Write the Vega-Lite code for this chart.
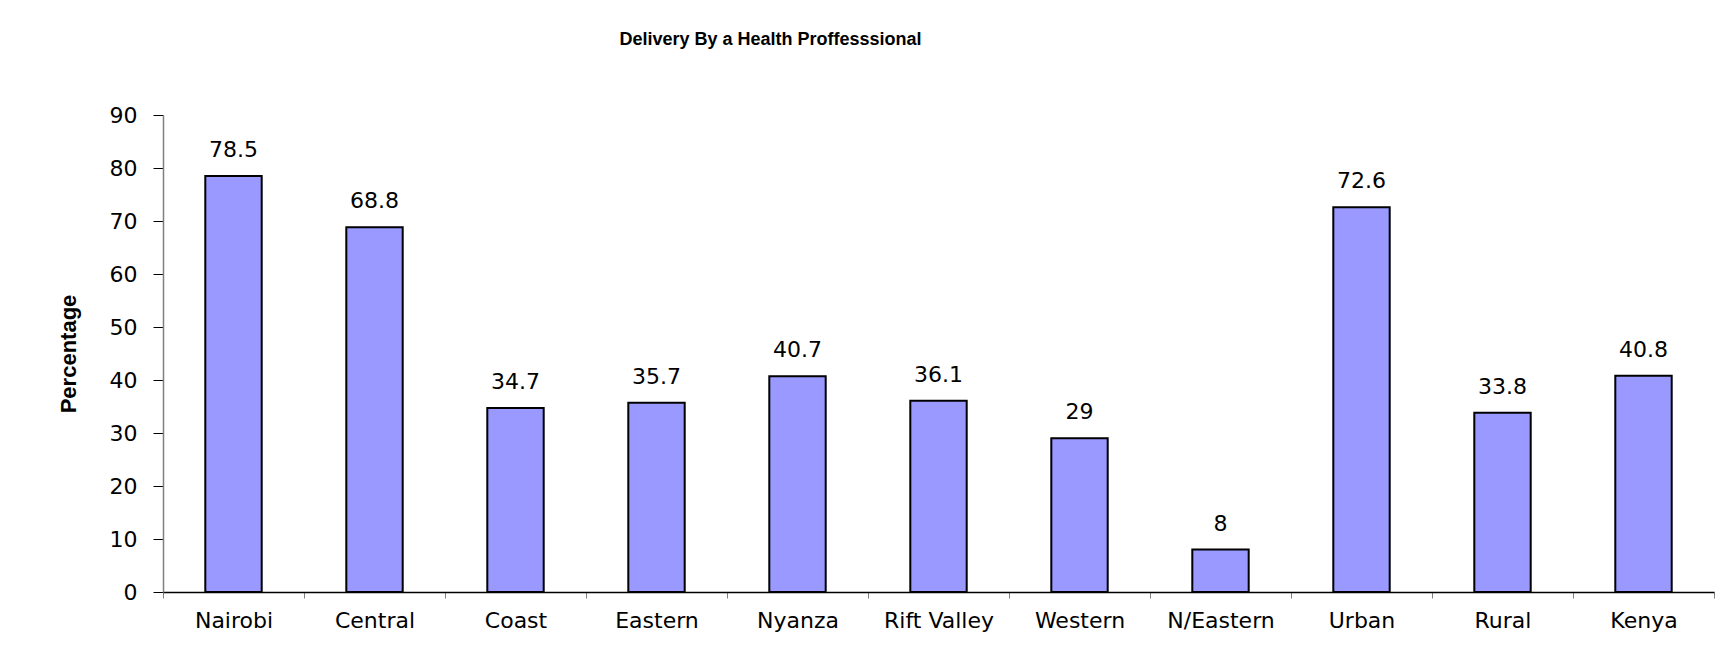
{
  "$schema": "https://vega.github.io/schema/vega-lite/v6.json",
  "autosize": {"type": "none"},
  "width": 1551,
  "height": 477,
  "padding": {"left": 163, "top": 115, "right": 11, "bottom": 64},
  "background": "white",
  "config": {"view": {"stroke": null}},
  "title": {
    "text": "Delivery By a Health Proffesssional",
    "font": "Liberation Sans Narrow, Liberation Sans",
    "fontSize": 18,
    "fontWeight": "bold",
    "color": "black",
    "anchor": "middle",
    "frame": "group",
    "dx": -168,
    "baseline": "alphabetic",
    "offset": 41
  },
  "data": {
    "values": [
      {"region": "Nairobi", "value": 78.5},
      {"region": "Central", "value": 68.8},
      {"region": "Coast", "value": 34.7},
      {"region": "Eastern", "value": 35.7},
      {"region": "Nyanza", "value": 40.7},
      {"region": "Rift Valley", "value": 36.1},
      {"region": "Western", "value": 29},
      {"region": "N/Eastern", "value": 8},
      {"region": "Urban", "value": 72.6},
      {"region": "Rural", "value": 33.8},
      {"region": "Kenya", "value": 40.8}
    ]
  },
  "encoding": {
    "x": {
      "field": "region",
      "type": "nominal",
      "sort": null,
      "scale": {"paddingInner": 0, "paddingOuter": 0},
      "axis": {
        "title": null,
        "labelAngle": 0,
        "labelFont": "DejaVu Sans",
        "labelFontSize": 22,
        "labelColor": "black",
        "labelPadding": 12,
        "tickBand": "extent",
        "tickSize": 6,
        "tickColor": "#808080",
        "domainColor": "black",
        "domainWidth": 1.5,
        "grid": false
      }
    },
    "y": {
      "field": "value",
      "type": "quantitative",
      "scale": {"domain": [0, 90], "nice": false},
      "axis": {
        "title": "Percentage",
        "titleFont": "Liberation Sans Narrow, Liberation Sans",
        "titleFontSize": 22,
        "titleFontWeight": "bold",
        "titleColor": "black",
        "titlePadding": 29,
        "values": [0, 10, 20, 30, 40, 50, 60, 70, 80, 90],
        "labelFont": "DejaVu Sans",
        "labelFontSize": 22,
        "labelColor": "black",
        "labelPadding": 16,
        "tickSize": 10,
        "tickColor": "black",
        "domainColor": "#808080",
        "domainWidth": 1.5,
        "grid": false
      }
    }
  },
  "layer": [
    {
      "mark": {"type": "bar", "width": {"band": 0.4}, "fill": "#9999FF", "stroke": "black", "strokeWidth": 2}
    },
    {
      "mark": {"type": "text", "font": "DejaVu Sans", "fontSize": 22, "color": "black", "baseline": "alphabetic", "dy": -19},
      "encoding": {"text": {"field": "value", "type": "quantitative", "format": "~g"}}
    }
  ]
}
